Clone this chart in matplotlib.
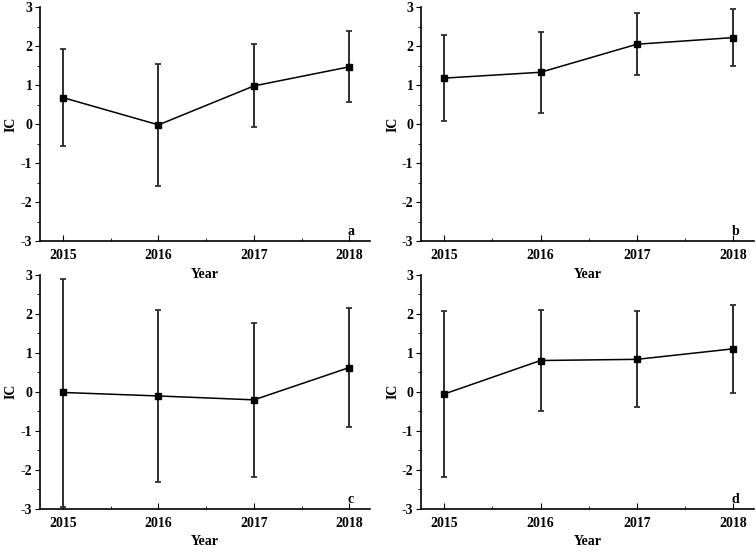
import matplotlib
matplotlib.use('Agg')
from matplotlib import pyplot as plt
from matplotlib.ticker import MultipleLocator
import numpy

plt.rcParams['font.family'] = 'Liberation Serif'
plt.rcParams['font.weight'] = 'bold'
plt.rcParams['axes.unicode_minus'] = False

years = [2015, 2016, 2017, 2018]

# mean IC and error bar ends for each panel
mean_a = [0.68, -0.02, 0.98, 1.47]
upper_a = [1.92, 1.55, 2.05, 2.38]
lower_a = [-0.55, -1.60, -0.08, 0.57]

mean_b = [1.18, 1.33, 2.05, 2.22]
upper_b = [2.29, 2.37, 2.85, 2.95]
lower_b = [0.08, 0.29, 1.25, 1.48]

mean_c = [-0.02, -0.11, -0.21, 0.62]
upper_c = [2.90, 2.09, 1.75, 2.16]
lower_c = [-2.96, -2.33, -2.20, -0.90]

mean_d = [-0.06, 0.80, 0.83, 1.10]
upper_d = [2.08, 2.10, 2.06, 2.22]
lower_d = [-2.18, -0.50, -0.40, -0.03]

panels = [('a', mean_a, upper_a, lower_a),
          ('b', mean_b, upper_b, lower_b),
          ('c', mean_c, upper_c, lower_c),
          ('d', mean_d, upper_d, lower_d)]

# axes boxes in figure fractions (left, bottom, width, height)
boxes = [[0.053, 0.565, 0.437, 0.422],
         [0.557, 0.565, 0.441, 0.422],
         [0.053, 0.082, 0.437, 0.422],
         [0.557, 0.082, 0.441, 0.422]]

fig = plt.figure(figsize=(7.56, 5.54), dpi=100)

for (letter, m, up, lo), box in zip(panels, boxes):
    ax = fig.add_axes(box)
    ax.patch.set_alpha(0)  # so the upper "Year" labels show through
    m = numpy.array(m)
    yerr = [m - numpy.array(lo), numpy.array(up) - m]
    ax.errorbar(years, m, yerr=yerr, color='black', ecolor='#2e2e2e',
                elinewidth=1.4, capsize=2.5, capthick=1.3, lw=1.1,
                marker='s', ms=4.5, mfc='black', mec='black', clip_on=False)
    ax.set_xlim(2014.76, 2018.22)
    ax.set_ylim(-3, 3)
    ax.spines['top'].set_visible(False)
    ax.spines['right'].set_visible(False)
    ax.spines['left'].set_linewidth(1.2)
    ax.spines['bottom'].set_linewidth(1.2)
    ax.set_xticks(years)
    ax.set_yticks(range(-3, 4))
    ax.xaxis.set_minor_locator(MultipleLocator(0.5))
    ax.yaxis.set_minor_locator(MultipleLocator(0.5))
    ax.tick_params(axis='x', which='both', direction='in', labelsize=10, pad=6)
    ax.tick_params(axis='x', which='major', length=4)
    ax.tick_params(axis='x', which='minor', length=2.5)
    ax.tick_params(axis='y', which='both', direction='out', labelsize=10, pad=2)
    ax.tick_params(axis='y', which='major', length=3.5)
    ax.tick_params(axis='y', which='minor', length=2)
    ax.set_xlabel('Year', fontsize=10, fontweight='bold', labelpad=4)
    ax.set_ylabel('IC', fontsize=10, fontweight='bold', labelpad=2)
    ax.text(2017.98, -2.85, letter, fontsize=10, fontweight='bold')

plt.savefig('out.png', dpi=100)
